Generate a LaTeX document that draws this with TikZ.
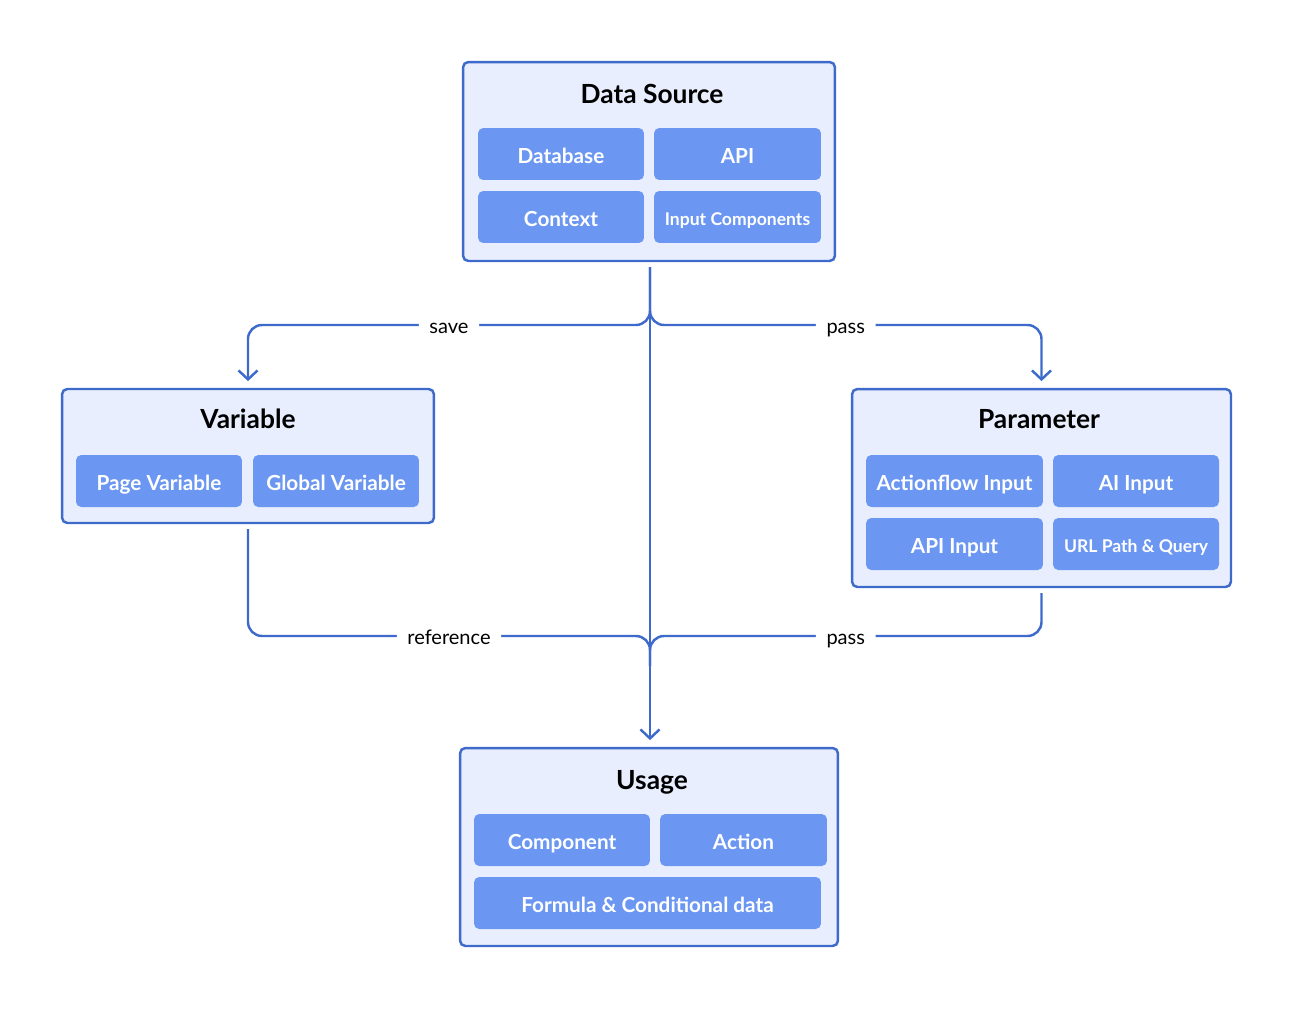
\documentclass[tikz,border=0pt]{standalone}
\usepackage{fontspec}
\setmainfont{Lato}
\usetikzlibrary{arrows.meta,calc}
\definecolor{edgeblue}{HTML}{3E6BCB}
\definecolor{panelfill}{HTML}{E8EEFD}
\definecolor{itemfill}{HTML}{6B97F2}
\tikzset{
  panel/.style={
    draw=edgeblue, fill=panelfill, line width=1.4pt, rounded corners=3pt,
    inner sep=0pt
  },
  title/.style={font=\fontsize{15}{17}\selectfont\bfseries, text=black,
    text height=10.8pt, text depth=3pt},
  item/.style={
    fill=itemfill, rounded corners=3pt, text=white, inner sep=0pt,
    minimum height=1.04cm, font=\fontsize{11.8}{13}\selectfont\bfseries,
    text height=11pt, text depth=0pt
  },
  small/.style={font=\fontsize{10}{12}\selectfont\bfseries, text height=9.4pt},
  conn/.style={
    draw=edgeblue, line width=1.4pt, rounded corners=8pt,
    -{Straight Barb[length=1.8mm,width=3.8mm,line width=1.4pt]}
  },
  flat/.style={draw=edgeblue, line width=1.4pt, rounded corners=8pt},
  tag/.style={fill=white, inner ysep=2pt, inner xsep=6pt,
    font=\fontsize{11.4}{13}\selectfont, text=black,
    text height=10pt, text depth=0pt}
}
\begin{document}
\begin{tikzpicture}[x=0.02cm, y=-0.02cm]
  \useasboundingbox (0,0) rectangle (1304,1021);

  % outer panels
  \node[panel, minimum width=7.44cm, minimum height=3.98cm] (src) at (649,161.5) {};
  \node[panel, minimum width=7.44cm, minimum height=2.68cm] (var) at (248,456) {};
  \node[panel, minimum width=7.58cm, minimum height=3.96cm] (par) at (1041.5,488) {};
  \node[panel, minimum width=7.56cm, minimum height=3.96cm] (use) at (649,847) {};

  % titles
  \node[title] (srctitle) at (652,97) {Data Source};
  \node[title] (vartitle) at (248,422) {Variable};
  \node[title] (partitle) at (1039,422) {Parameter};
  \node[title] (usetitle) at (652,783) {Usage};

  % items of the data source
  \node[item, minimum width=3.32cm] (database) at (561,154) {Database};
  \node[item, minimum width=3.34cm] (api) at (737.5,154) {API};
  \node[item, minimum width=3.32cm] (context) at (561,217) {Context};
  \node[item, small, minimum width=3.34cm] (inputcomp) at (737.5,217) {Input Components};

  % items of the variable
  \node[item, minimum width=3.32cm] (pagevar) at (159,481) {Page Variable};
  \node[item, minimum width=3.32cm] (globalvar) at (336,481) {Global Variable};

  % items of the parameter
  \node[item, minimum width=3.54cm] (flowinput) at (954.5,481) {Actionflow Input};
  \node[item, minimum width=3.32cm] (aiinput) at (1136,481) {AI Input};
  \node[item, minimum width=3.54cm] (apiinput) at (954.5,544) {API Input};
  \node[item, small, minimum width=3.32cm] (urlquery) at (1136,544) {URL Path \& Query};

  % items of the usage
  \node[item, minimum width=3.52cm] (component) at (562,840) {Component};
  \node[item, minimum width=3.34cm] (action) at (743.5,840) {Action};
  \node[item, minimum width=6.94cm] (formula) at (647.5,903) {Formula \& Conditional data};

  % split and merge points
  \coordinate (topsplit) at (650,325);
  \coordinate (botmerge) at (650,636);

  % connectors
  \draw[conn, shorten <=2.8pt, shorten >=3.8pt] (src.south -| topsplit) -- (use.north -| botmerge);
  \draw[conn, shorten <=2.8pt, shorten >=3.8pt] (src.south -| topsplit) -- (topsplit) -| node[tag, pos=0.25] {save} (var.north);
  \draw[conn, shorten <=2.8pt, shorten >=3.8pt] (src.south -| topsplit) -- (topsplit) -| node[tag, pos=0.25] {pass} (par.north);
  \draw[flat, shorten <=2.8pt] (var.south) |- node[tag, pos=0.75] {reference} (botmerge) -- ++(0,30);
  \draw[flat, shorten <=2.8pt] (par.south) |- node[tag, pos=0.75] {pass} (botmerge) -- ++(0,30);
\end{tikzpicture}
\end{document}
